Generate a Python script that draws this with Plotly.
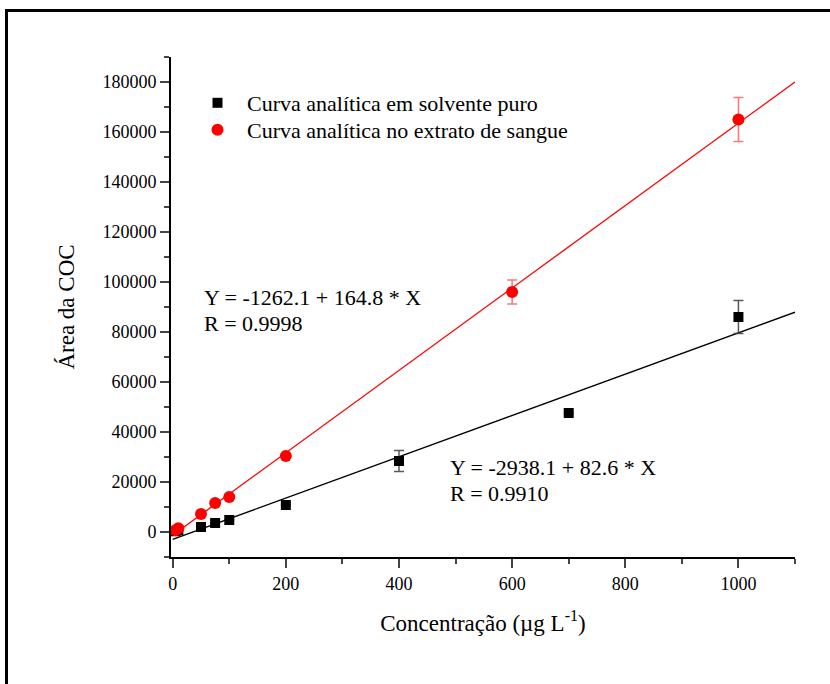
import plotly.graph_objects as go

# Data: solvent (black squares)
x_solv = [5, 10, 50, 75, 100, 200, 400, 700, 1000]
y_solv = [300, 700, 2000, 3600, 4800, 10800, 28400, 47600, 86000]
e_solv = [0, 0, 0, 0, 0, 0, 4200, 0, 6600]

# Data: blood extract (red circles)
x_blood = [5, 10, 50, 75, 100, 200, 600, 1000]
y_blood = [700, 1500, 7200, 11600, 14000, 30400, 96000, 165000]
e_blood = [0, 0, 0, 0, 0, 0, 4800, 8800]

# Fit coefficients (intercept, slope) and fitted range
fit_solv = [-2938.1, 82.6]
fit_blood = [-1262.1, 164.8]
fit_x = [0, 1100]

x_ticks = [0, 200, 400, 600, 800, 1000]
y_ticks = [0, 20000, 40000, 60000, 80000, 100000, 120000, 140000, 160000, 180000]
y_ticktext = [str(v) for v in y_ticks]

FONT = "Times New Roman"

fig = go.Figure()

fig.add_trace(go.Scatter(
    x=fit_x, y=[fit_solv[0] + fit_solv[1] * v for v in fit_x],
    mode="lines", line=dict(color="black", width=1.3), showlegend=False, hoverinfo="skip"))
fig.add_trace(go.Scatter(
    x=fit_x, y=[fit_blood[0] + fit_blood[1] * v for v in fit_x],
    mode="lines", line=dict(color="red", width=1.3), showlegend=False, hoverinfo="skip"))

fig.add_trace(go.Scatter(
    x=x_solv, y=y_solv, mode="markers", name="Curva analítica em solvente puro",
    marker=dict(symbol="square", size=10, color="black"), legend="legend",
    error_y=dict(type="data", array=e_solv, color="rgba(60,60,60,0.85)", thickness=1.5, width=5)))
fig.add_trace(go.Scatter(
    x=x_blood, y=y_blood, mode="markers", name="Curva analítica no extrato de sangue",
    marker=dict(symbol="circle", size=12, color="red"), legend="legend2",
    error_y=dict(type="data", array=e_blood, color="rgba(255,60,60,0.7)", thickness=1.5, width=5)))

L, R, T, B = 171, 35, 57, 127
W, H = 830, 684
pw, ph = W - L - R, H - T - B

def px(xp):
    return (xp - L) / pw

def py(yp):
    return (H - B - yp) / ph

annots = [
    ("Y = -1262.1 + 164.8 * X", 202, 297),
    ("R = 0.9998", 202, 323),
    ("Y = -2938.1 + 82.6 * X", 448, 467),
    ("R = 0.9910", 448, 493),
]
for txt, xx, yy in annots:
    fig.add_annotation(x=px(xx), y=py(yy), xref="paper", yref="paper", text=txt,
                       showarrow=False, xanchor="left", yanchor="middle",
                       font=dict(family=FONT, size=22, color="black"))

# outer frame (cut off at right and bottom)
fig.add_shape(type="rect", xref="paper", yref="paper",
              x0=px(6.5), y0=py(800), x1=px(900), y1=py(10.5),
              line=dict(color="black", width=3), fillcolor="rgba(0,0,0,0)", layer="below")

legend_style = dict(xanchor="left", yanchor="top",
                    font=dict(family=FONT, size=22, color="black"),
                    bgcolor="rgba(0,0,0,0)", itemsizing="trace", itemwidth=49)

fig.update_layout(
    template="none",
    width=W, height=H,
    margin=dict(l=L, r=R, t=T, b=B),
    paper_bgcolor="white", plot_bgcolor="white",
    font=dict(family=FONT, color="black", size=18),
    showlegend=True,
    legend=dict(x=px(188), y=py(82), **legend_style),
    legend2=dict(x=px(188), y=py(109), **legend_style),
    xaxis=dict(range=[-3, 1100], tickvals=x_ticks, ticks="outside", ticklen=9, tickwidth=2,
               showline=True, linewidth=2, linecolor="black", showgrid=False, zeroline=False,
               minor=dict(dtick=100, tick0=0, ticks="outside", ticklen=5, tickwidth=2, showgrid=False),
               tickfont=dict(family=FONT, size=18, color="black"),
               title=dict(text="Concentração (µg L<sup>-1</sup>)", font=dict(family=FONT, size=23, color="black"), standoff=22)),
    yaxis=dict(range=[-10000, 190000], tickvals=y_ticks, ticktext=y_ticktext, ticks="outside", ticklen=9, tickwidth=2,
               showline=True, linewidth=2, linecolor="black", showgrid=False, zeroline=False,
               minor=dict(dtick=10000, tick0=0, ticks="outside", ticklen=5, tickwidth=2, showgrid=False),
               tickfont=dict(family=FONT, size=18, color="black"),
               title=dict(text="Área da COC", font=dict(family=FONT, size=23, color="black"), standoff=21)),
)

fig.write_html("out.html")
